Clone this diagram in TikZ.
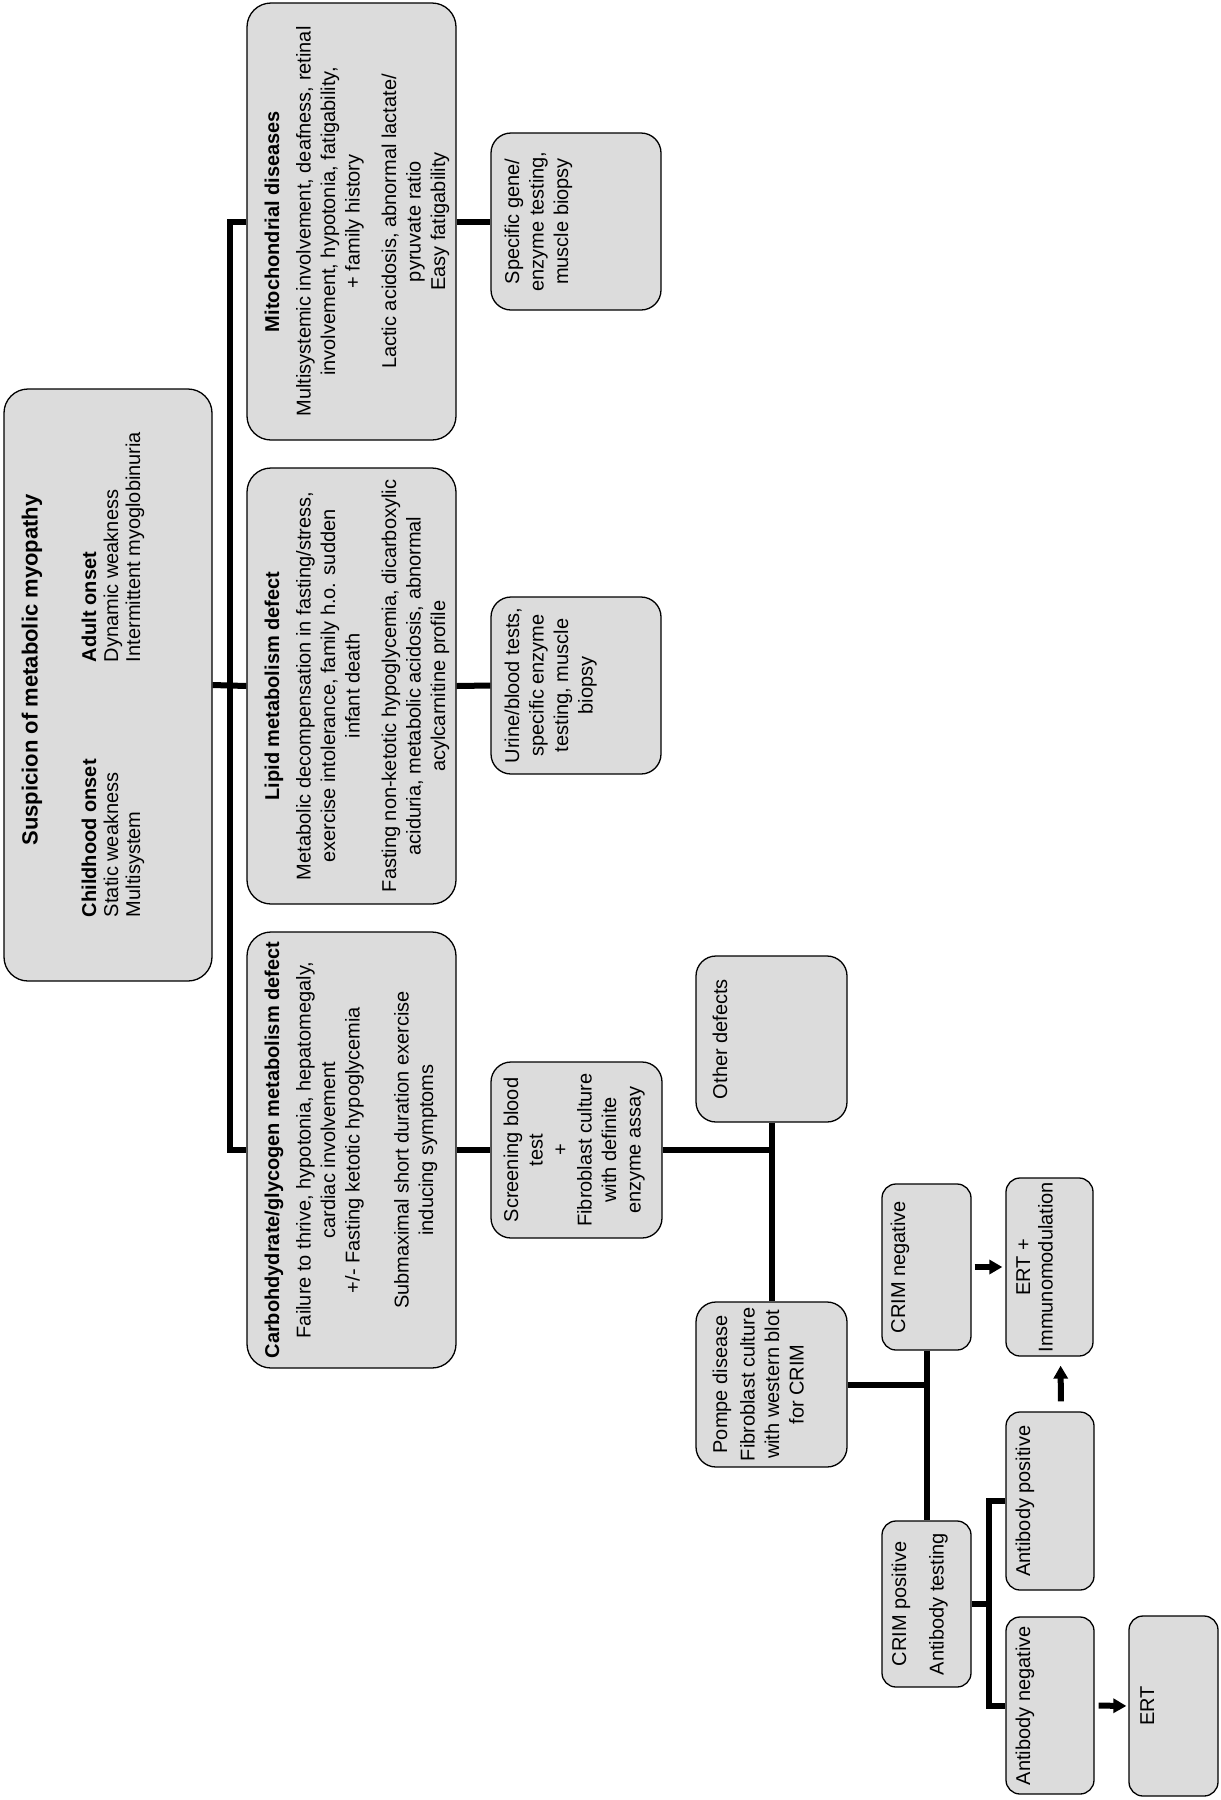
\documentclass[tikz,border=0pt]{standalone}
\usepackage{fontspec}
\setmainfont{Liberation Sans}
\usepackage{tikz}
\usetikzlibrary{
  arrows.meta,
  calc
}
\definecolor{boxgray}{RGB}{220,220,220}

\begin{document}
\begin{tikzpicture}[x=0.5pt, y=-0.5pt,
      block/.style={
         draw,
         line width=0.65pt,
         fill=boxgray,
         rounded corners=12pt,
         rotate=90,
         inner sep=0pt
      },
      small block/.style={block, rounded corners=10pt},
      slim block/.style={block, rounded corners=7pt},
      cell/.style n args={3}{
         execute at begin node={\begin{minipage}[c][#2][t]{#1}\fontsize{10}{12.25}\selectfont
            \lineskip=0pt\lineskiplimit=0pt\everypar{\rule[-3.5pt]{0pt}{12.25pt}}\centering\rule{0pt}{#3}},
         execute at end node={\end{minipage}}
      },
      link/.style={line width=3pt},
      >={Triangle[length=6.5pt,width=7pt]},
      tip/.style={->}
    ]
    \useasboundingbox (0,0) rectangle (1221,1800);

    % first column
    \node (susp) [block, cell={296pt}{104pt}{16.75pt}] at (108,685) {%
      {\fontsize{11}{13}\selectfont\bfseries\hspace{15pt}Suspicion of metabolic myopathy}\par
      \vspace{17.75pt}
      {\fontsize{10}{11}\selectfont\everypar{\rule[-3pt]{0pt}{11pt}}%
      \makebox[296pt][l]{\hspace*{32pt}\makebox[127.5pt][l]{\bfseries Childhood onset}\bfseries Adult onset}\par
      \makebox[296pt][l]{\hspace*{32pt}\makebox[127.5pt][l]{Static weakness}Dynamic weakness}\par
      \makebox[296pt][l]{\hspace*{32pt}\makebox[127.5pt][l]{Multisystem}Intermittent myoglobinuria}\par}};

    % disease groups
    \node (mito) [block, cell={218.5pt}{104.5pt}{16pt}] at (351.5,221.5) {%
      \textbf{Mitochondrial diseases}\\[3.5pt]
      Multisystemic involvement, deafness, retinal\\
      involvement, hypotonia, fatigability,\\
      + family history\\[6pt]
      Lactic acidosis, abnormal lactate/\\
      pyruvate ratio\\
      Easy fatigability};
    \node (lipid) [block, cell={218pt}{104.5pt}{16pt}] at (351.5,686) {%
      \textbf{Lipid metabolism defect}\\[3.5pt]
      Metabolic decompensation in fasting/stress,\\
      exercise intolerance, family h.o. sudden\\
      infant death\\[6pt]
      Fasting non-ketotic hypoglycemia, dicarboxylic\\
      aciduria, metabolic acidosis, abnormal\\
      acylcarnitine profile};
    \node (carbo) [block, cell={218pt}{104.5pt}{16pt}] at (351.5,1150) {%
      \textbf{Carbohdydrate/glycogen metabolism defect}\\[3.5pt]
      Failure to thrive, hypotonia, hepatomegaly,\\
      cardiac involvement\\
      +/- Fasting ketotic hypoglycemia\\[12.25pt]
      Submaximal short duration exercise\\
      inducing symptoms};

    % tests
    \node (spec) [small block, cell={88.5pt}{85pt}{14pt}] at (576,221.5) {%
      Specific gene/\\ enzyme testing,\\ muscle biopsy};
    \node (urine) [small block, cell={88.5pt}{85pt}{14pt}] at (576,685.5) {%
      Urine/blood tests,\\ specific enzyme\\ testing, muscle\\ biopsy};
    \node (screen) [small block, cell={88pt}{85.5pt}{13.5pt}] at (576.5,1150) {%
      Screening blood\\ test\\ +\\ Fibroblast culture\\ with definite\\ enzyme assay};

    \node (other) [small block, cell={83pt}{75.5pt}{15.5pt}] at (771.5,1039) {Other defects};
    \node (pompe) [small block, cell={82.5pt}{75.5pt}{15.5pt}] at (771.5,1384.5) {%
      Pompe disease\\[1.5pt] Fibroblast culture\\ with western blot\\ for CRIM};

    % Pompe branch
    \node (crimneg) [slim block, cell={83pt}{44.5pt}{11.5pt}] at (926.5,1267) {CRIM negative};
    \node (crimpos) [slim block, cell={83pt}{44.5pt}{12pt}] at (926.5,1604) {%
      CRIM positive\\[6.5pt] Antibody testing};
    \node (ertimm) [slim block, cell={89pt}{43.5pt}{12pt}] at (1049.5,1267) {%
      ERT +\\[-1pt] Immunomodulation};
    \node (antipos) [slim block, cell={89pt}{44pt}{12pt}] at (1050,1501) {Antibody positive};
    \node (antineg) [slim block, cell={88.5pt}{44pt}{12pt}] at (1050,1705.5) {Antibody negative};
    \node (ert) [slim block, cell={90pt}{44.5pt}{12.5pt}] at (1173.5,1706) {ERT};

    \coordinate (trunk) at ($(susp.south)!0.5!(lipid.north)$);
    \coordinate (abr) at ($(crimpos.south)!0.5!(antipos.north)$);

    \draw[link] (mito.north) -- (mito.north -| trunk) -- (carbo.north -| trunk) -- (carbo.north);
    \draw[link] (susp.south) -- (lipid.north);
    \draw[link] (mito.south) -- (spec.north);
    \draw[link] (lipid.south) -- (urine.north);
    \draw[link] (carbo.south) -- (screen.north);
    \draw[link] (screen.south) -- (screen.south -| other.west);
    \draw[link] (other.west) -- (pompe.east);
    \draw[link] (pompe.south) -- (pompe.south -| crimneg.west);
    \draw[link] (crimneg.west) -- (crimpos.east);
    \draw[link] (crimpos.south) -- (crimpos.south -| abr);
    \draw[link] (antipos.north) -- (antipos.north -| abr) -- (antineg.north -| abr) -- (antineg.north);
    \draw[link, tip, shorten <=1.5pt, shorten >=1.5pt] (crimneg.south) -- (ertimm.north);
    \draw[link, tip, shorten <=5pt, shorten >=4.5pt] ([xshift=5.5pt]antipos.east) -- ([xshift=5.5pt]ertimm.west);
    \draw[link, tip, shorten <=2pt, shorten >=1pt] (antineg.south) -- (ert.north);
\end{tikzpicture}
\end{document}
